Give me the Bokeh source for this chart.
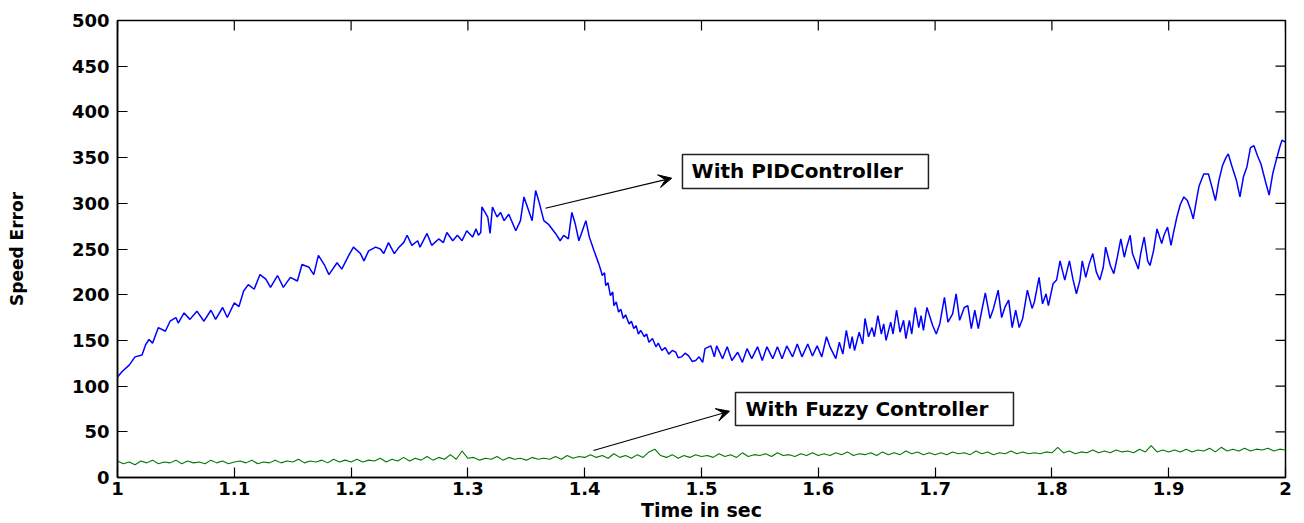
import numpy as np
from bokeh.plotting import figure
from bokeh.models import Range1d, FixedTicker, Arrow, VeeHead
from bokeh.core.properties import value
from bokeh.embed import file_html
from bokeh.resources import INLINE

# ---------------- data ----------------
pid_time = [
    1.000,1.004,1.010,1.015,1.021,1.024,1.027,1.030,1.035,1.041,1.045,1.050,1.052,1.057,1.062,1.068,1.074,1.080,1.084,1.090,
    1.094,1.100,1.104,1.108,1.112,1.117,1.122,1.127,1.131,1.137,1.142,1.148,1.154,1.158,1.164,1.168,1.172,1.177,1.181,1.188,
    1.192,1.198,1.202,
    1.208,1.211,1.215,1.221,1.225,1.228,1.232,1.237,1.241,1.245,1.248,1.252,1.257,1.259,1.265,1.269,1.275,1.279,1.282,1.287,
    1.291,1.295,1.299,1.304,1.307,1.309,1.311,1.312,1.317,1.319,1.321,1.325,1.328,1.331,1.335,1.341,1.345,1.348,1.352,1.355,
    1.358,1.361,1.365,1.369,1.375,1.379,1.382,1.386,1.389,1.392,1.395,1.398,1.401,1.404,1.408,
    1.412,1.414,1.415,1.417,1.418,1.420,1.422,1.424,1.425,1.427,1.429,1.431,1.433,1.435,1.438,1.440,1.442,1.444,1.446,1.448,
    1.451,1.453,1.455,1.458,1.461,1.463,1.466,1.469,1.472,1.475,1.478,1.480,1.483,1.486,1.489,1.492,1.495,1.498,1.501,
    1.503,1.508,1.511,1.513,1.518,1.522,1.526,1.531,1.535,1.539,1.543,1.548,1.552,1.556,1.561,1.565,1.569,1.573,1.578,1.582,
    1.586,1.591,1.595,1.599,1.603,1.607,1.610,1.615,1.618,
    1.621,1.624,1.627,1.629,1.631,1.635,1.638,1.640,1.643,1.646,1.648,1.651,1.654,1.656,1.658,1.662,1.664,1.667,1.670,1.673,
    1.675,1.678,1.680,1.683,1.686,1.688,1.690,1.693,1.698,1.701,1.704,1.708,1.711,1.715,1.718,1.721,1.725,1.728,1.731,1.734,
    1.737,1.740,1.743,1.747,1.750,1.754,1.757,1.760,1.763,1.766,1.769,1.772,1.775,1.779,1.783,1.785,1.789,1.792,1.795,1.797,
    1.801,1.804,1.807,1.811,1.815,1.818,1.821,1.824,
    1.826,1.829,1.832,1.835,1.838,1.841,1.844,1.846,1.850,1.853,1.856,1.859,1.862,1.864,1.867,1.869,1.874,1.876,1.879,1.882,
    1.884,1.887,1.890,1.894,1.896,1.899,1.902,1.904,1.907,1.910,1.913,1.916,1.919,1.921,1.924,1.926,1.930,1.934,1.937,1.940,
    1.943,1.946,1.949,1.951,1.954,1.958,1.961,1.964,1.967,1.970,1.973,1.976,1.979,1.983,1.986,1.989,1.992,1.995,1.997,2.000,
]
pid_error = [
    110,116,123,132,134,145,151,147,164,160,171,175,169,180,173,182,171,183,173,186,
    175,191,187,204,211,206,222,217,208,221,208,219,215,233,230,222,243,233,222,235,
    228,243,252,
    245,237,248,252,250,245,257,245,252,257,265,254,259,252,267,254,261,257,268,259,
    265,259,270,263,272,265,268,296,285,267,296,285,290,281,288,270,281,307,292,281,
    314,301,281,277,267,259,265,261,290,277,259,270,281,263,248,
    234,226,221,224,210,213,199,203,188,192,181,184,174,178,168,171,163,166,157,161,
    154,157,148,152,143,147,139,142,135,139,137,131,132,136,133,127,128,132,126,
    141,144,132,144,130,143,128,137,126,141,130,143,128,143,130,143,130,144,132,146,
    132,146,133,144,132,154,143,130,148,
    135,161,141,154,139,159,146,174,154,164,154,177,157,168,150,170,157,183,159,172,
    152,172,157,186,164,177,161,186,166,157,168,197,170,179,201,172,186,188,163,183,
    163,183,202,174,185,205,175,187,194,164,183,164,174,205,185,192,219,190,201,188,
    212,216,237,216,237,217,201,216,
    237,219,234,245,225,216,230,252,232,223,241,261,241,252,265,245,228,245,263,237,
    232,248,272,256,265,274,254,267,285,299,307,303,292,283,305,319,332,332,318,303,
    325,341,350,354,341,325,307,329,340,361,363,352,343,323,309,332,347,361,369,367,
]

fuzzy_error = [
    18,15,17,14,18,16,19,15,17,16,19,15,18,16,17,15,19,16,18,15,17,
    18,16,19,15,17,16,19,16,18,17,20,16,18,17,19,16,20,17,19,17,
    20,17,19,18,21,17,20,18,22,18,21,19,23,19,22,20,25,20,29,21,
    22,19,21,20,23,19,22,20,21,19,22,20,21,20,23,20,24,21,23,22,
    25,22,24,21,26,22,24,21,25,22,28,31,24,22,25,21,24,22,25,23,
    24,22,26,23,25,22,27,23,25,24,26,23,27,24,25,23,26,24,27,24,
    26,24,27,25,28,24,26,25,27,24,28,25,27,25,29,26,28,25,27,25,
    27,25,28,26,27,25,29,26,28,25,27,26,29,26,28,26,27,26,28,27,
    33,27,29,26,28,27,30,27,29,27,30,28,29,27,31,28,35,28,30,28,
    30,28,31,28,30,29,32,28,33,29,31,29,32,29,31,30,32,29,31,30,
]
fuzzy_time = list(np.linspace(1.0, 2.0, len(fuzzy_error)))

x_ticks = [1, 1.1, 1.2, 1.3, 1.4, 1.5, 1.6, 1.7, 1.8, 1.9, 2]
x_tick_labels = ["1", "1.1", "1.2", "1.3", "1.4", "1.5", "1.6", "1.7", "1.8", "1.9", "2"]
y_ticks = [0, 50, 100, 150, 200, 250, 300, 350, 400, 450, 500]
y_tick_labels = ["0", "50", "100", "150", "200", "250", "300", "350", "400", "450", "500"]

pid_label = "With PIDController"
fuzzy_label = "With Fuzzy Controller"

FONT = "DejaVu Sans"
X0, X1, Y0, Y1 = 1, 2, 0, 500

# ---------------- figure ----------------
p = figure(width=1304, height=523, x_range=Range1d(X0, X1), y_range=Range1d(Y0, Y1),
           output_backend="svg", toolbar_location=None,
           min_border_left=117, min_border_right=19, min_border_top=20, min_border_bottom=46)
p.background_fill_color = "white"
p.border_fill_color = "white"
p.outline_line_color = "black"
p.outline_line_width = 1.5
p.xgrid.visible = False
p.ygrid.visible = False

def style_axis(ax, ticks, labels):
    ax.ticker = FixedTicker(ticks=ticks)
    ax.major_label_overrides = {t: l for t, l in zip(ticks, labels)}
    ax.minor_tick_line_color = None
    ax.major_tick_in = 10
    ax.major_tick_out = 0
    ax.major_tick_line_color = "black"
    ax.major_tick_line_width = 1.2
    ax.axis_line_color = "black"
    ax.axis_line_width = 1.5
    ax.major_label_text_font = FONT
    ax.major_label_text_font_style = "bold"
    ax.major_label_text_font_size = "18px"
    ax.major_label_text_color = "black"
    ax.axis_label_text_font = FONT
    ax.axis_label_text_font_style = "bold"
    ax.axis_label_text_color = "black"

xa = p.xaxis[0]
style_axis(xa, x_ticks, x_tick_labels)
xa.major_label_standoff = 4
xa.axis_label = "Time in sec"
xa.axis_label_text_font_size = "19px"
xa.axis_label_standoff = 1

ya = p.yaxis[0]
style_axis(ya, y_ticks, y_tick_labels)
ya.major_label_standoff = 8
ya.axis_label = "Speed Error"
ya.axis_label_text_font_size = "17px"
ya.axis_label_standoff = 42

# mirrored tick marks on the top and right edges (clipped dashes -> inward ticks)
p.scatter(x=x_ticks, y=[Y1] * len(x_ticks), marker="dash", size=20, angle=np.pi / 2,
          line_color="black", line_width=1.2)
p.scatter(x=[X1] * len(y_ticks), y=y_ticks, marker="dash", size=20,
          line_color="black", line_width=1.2)

# ---------------- series ----------------
p.line(x=fuzzy_time, y=fuzzy_error, line_color="#007800", line_width=1.1)
p.line(x=pid_time, y=pid_error, line_color="#0000ff", line_width=1.5)

# ---------------- annotations ----------------
p.quad(left=[1.4837], right=[1.6943], bottom=[316.2], top=[353.4],
       fill_color="white", line_color="#222222", line_width=1.5)
p.text(x=[1.4915], y=[334.8], text=[pid_label], text_font=value(FONT),
       text_font_style="bold", text_font_size="20px", text_baseline="middle",
       text_color="black")
p.add_layout(Arrow(end=VeeHead(size=13, fill_color="black", line_color="black"),
                   x_start=1.3664, y_start=294.6, x_end=1.4745, y_end=327.5,
                   line_color="black", line_width=1.2))

p.quad(left=[1.5291], right=[1.7671], bottom=[56.9], top=[93.0],
       fill_color="white", line_color="#222222", line_width=1.5)
p.text(x=[1.5377], y=[74.9], text=[fuzzy_label], text_font=value(FONT),
       text_font_style="bold", text_font_size="20px", text_baseline="middle",
       text_color="black")
p.add_layout(Arrow(end=VeeHead(size=13, fill_color="black", line_color="black"),
                   x_start=1.4075, y_start=29.5, x_end=1.5240, y_end=72.5,
                   line_color="black", line_width=1.2))

open("out.html", "w").write(file_html(p, INLINE))
